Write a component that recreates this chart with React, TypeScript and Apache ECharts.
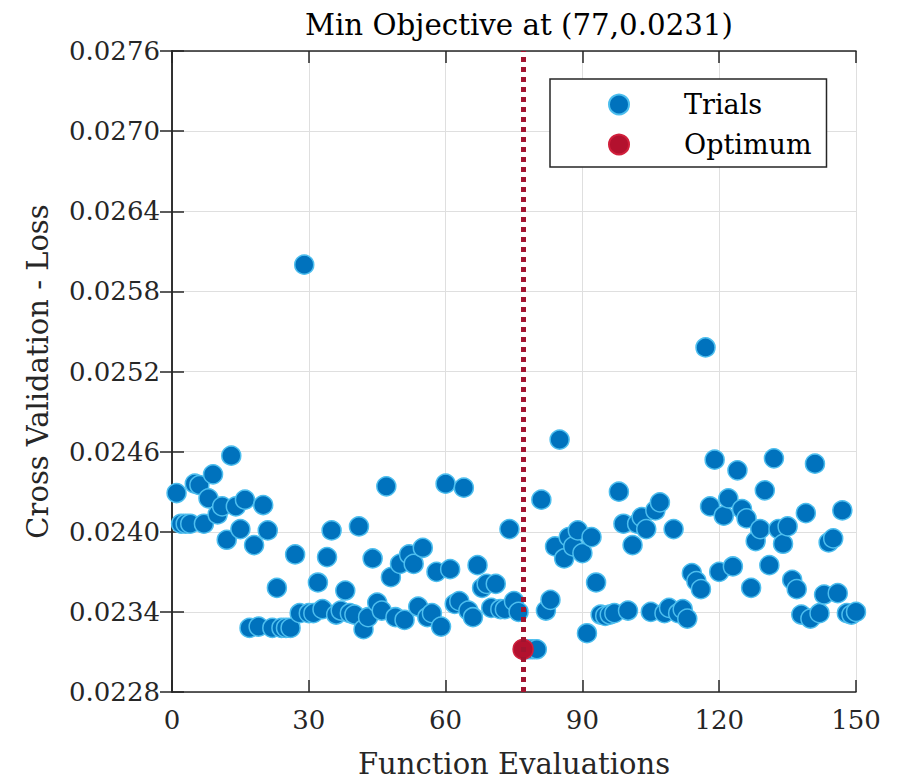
import React, { useEffect, useRef } from "react";
import * as echarts from "echarts";

// Cross-validation loss for function evaluations 1..150
const lossValues: number[] = [
  0.02429, 0.02406, 0.02406, 0.02406, 0.02436, 0.02435, 0.02406, 0.02425, 0.02443, 0.02413,
  0.02419, 0.02394, 0.02457, 0.02419, 0.02402, 0.02424, 0.02328, 0.0239, 0.02329, 0.0242,
  0.02401, 0.02328, 0.02358, 0.02328, 0.02328, 0.02328, 0.02383, 0.02339, 0.026, 0.02339,
  0.02339, 0.02362, 0.02342, 0.02381, 0.02401, 0.02338, 0.02341, 0.02356, 0.02339, 0.02338,
  0.02404, 0.02327, 0.02336, 0.0238, 0.02347, 0.02341, 0.02434, 0.02366, 0.02336, 0.02376,
  0.02334, 0.02383, 0.02376, 0.02344, 0.02388, 0.02336, 0.02339, 0.0237, 0.02329, 0.02436,
  0.02372, 0.02346, 0.02348, 0.02433, 0.02341, 0.02336, 0.02375, 0.02358, 0.02361, 0.02343,
  0.02361, 0.02342, 0.02342, 0.02402, 0.02348, 0.0234, 0.02312, 0.02312, 0.02312, 0.02312,
  0.02424, 0.02341, 0.02349, 0.02389, 0.02469, 0.0238, 0.02396, 0.02389, 0.02401, 0.02384,
  0.02324, 0.02396, 0.02362, 0.02338, 0.02337, 0.02338, 0.02339, 0.0243, 0.02406, 0.02341,
  0.0239, 0.02406, 0.02411, 0.02402, 0.0234, 0.02416, 0.02422, 0.02339, 0.02343, 0.02402,
  0.02339, 0.02342, 0.02335, 0.02369, 0.02363, 0.02357, 0.02538, 0.02419, 0.02454, 0.0237,
  0.02412, 0.02425, 0.02374, 0.02446, 0.02417, 0.0241, 0.02358, 0.02393, 0.02402, 0.02431,
  0.02375, 0.02455, 0.02402, 0.02391, 0.02404, 0.02364, 0.02357, 0.02338, 0.02414, 0.02335,
  0.02451, 0.02339, 0.02353, 0.02392, 0.02395, 0.02354, 0.02416, 0.02339, 0.02338, 0.0234,
];

const optimumEval = 77;
const optimumLoss = 0.02312;
const titleText = "Min Objective at (77,0.0231)";
const xName = "Function Evaluations";
const yName = "Cross Validation - Loss";
const xMin = 0;
const xMax = 150;
const xInterval = 30;
const yMin = 0.0228;
const yMax = 0.0276;
const yInterval = 0.0006;

const FONT = "'DejaVu Serif', 'Liberation Serif', serif";
const AXIS_COLOR = "#262626";
const GRID_COLOR = "#dfdfdf";

export default function App() {
  const ref = useRef<HTMLDivElement>(null);

  useEffect(() => {
    if (!ref.current) return;
    const chart = echarts.init(ref.current, undefined, { renderer: "svg" });

    const trialsData = lossValues.map((v, i) => [i + 1, v]);

    const axisLine = { show: true, lineStyle: { color: AXIS_COLOR, width: 1.5 } };
    const axisTick = { show: true, inside: true, length: 12, lineStyle: { color: AXIS_COLOR, width: 1.5 } };

    const option: any = {
      animation: false,
      backgroundColor: "#ffffff",
      title: {
        text: titleText,
        left: 514,
        textAlign: "center",
        top: 5,
        textStyle: { fontFamily: FONT, fontSize: 29.3, fontWeight: "normal", color: "#000" },
      },
      grid: { left: 172, right: 45, top: 51, bottom: 86, containLabel: false },
      xAxis: [
        {
          type: "value",
          position: "bottom",
          min: xMin,
          max: xMax,
          interval: xInterval,
          name: xName,
          nameLocation: "middle",
          nameGap: 57,
          nameTextStyle: { fontFamily: FONT, fontSize: 29, color: "#262626" },
          axisLine,
          axisTick,
          axisLabel: { margin: 15, fontFamily: FONT, fontSize: 26, color: "#262626" },
          splitLine: { show: true, lineStyle: { color: GRID_COLOR, width: 1 } },
        },
        {
          type: "value",
          position: "top",
          min: xMin,
          max: xMax,
          interval: xInterval,
          axisLine,
          axisTick,
          axisLabel: { show: false },
          splitLine: { show: false },
        },
      ],
      yAxis: [
        {
          type: "value",
          position: "left",
          min: yMin,
          max: yMax,
          interval: yInterval,
          name: yName,
          nameLocation: "middle",
          nameGap: 120,
          nameTextStyle: { fontFamily: FONT, fontSize: 29, color: "#262626" },
          axisLine,
          axisTick,
          axisLabel: {
            margin: 12,
            fontFamily: FONT,
            fontSize: 26,
            color: "#262626",
            formatter: (v: number) => v.toFixed(4),
          },
          splitLine: { show: true, lineStyle: { color: GRID_COLOR, width: 1 } },
        },
        {
          type: "value",
          position: "right",
          min: yMin,
          max: yMax,
          interval: yInterval,
          axisLine,
          axisTick,
          axisLabel: { show: false },
          splitLine: { show: false },
        },
      ],
      legend: {
        orient: "vertical",
        left: 550,
        top: 79,
        data: ["Trials", "Optimum"],
        icon: "circle",
        itemWidth: 20,
        itemHeight: 20,
        itemGap: 13,
        padding: [12, 15, 9, 58],
        backgroundColor: "#ffffff",
        borderColor: AXIS_COLOR,
        borderWidth: 1.5,
        borderRadius: 0,
        textStyle: { fontFamily: FONT, fontSize: 27, color: "#000", padding: [0, 0, 0, 50], lineHeight: 20 },
      },
      series: [
        {
          name: "Trials",
          type: "scatter",
          xAxisIndex: 0,
          yAxisIndex: 0,
          data: trialsData,
          symbol: "circle",
          symbolSize: 19,
          itemStyle: { color: "#0072BD", borderColor: "#4DBEEE", borderWidth: 1.5, opacity: 1 },
          z: 2,
        },
        {
          name: "Optimum",
          type: "scatter",
          xAxisIndex: 0,
          yAxisIndex: 0,
          data: [[optimumEval, optimumLoss]],
          symbol: "circle",
          symbolSize: 20,
          itemStyle: { color: "#B3112E", borderColor: "#D1203C", borderWidth: 1.5, opacity: 1 },
          z: 3,
          markLine: {
            silent: true,
            symbol: ["none", "none"],
            label: { show: false },
            lineStyle: { color: "#A2142F", width: 5, type: [5, 5], opacity: 1 },
            data: [{ xAxis: optimumEval }],
            z: 5,
          },
        },
      ],
    };

    chart.setOption(option);
    return () => chart.dispose();
  }, []);

  return <div ref={ref} style={{ width: 901, height: 783, margin: -8 }} />;
}
